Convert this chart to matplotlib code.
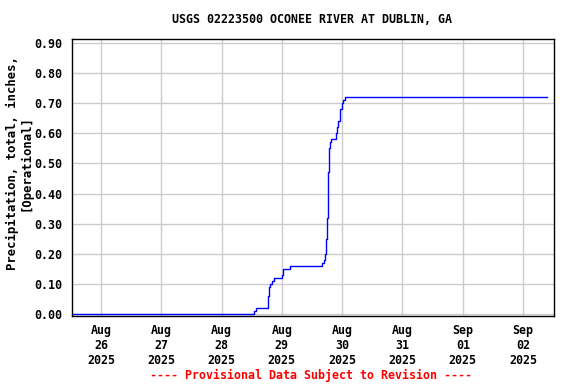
import matplotlib
matplotlib.use("Agg")
import matplotlib.pyplot as plt
import pandas as pd

# precipitation, cumulative (inches), step readings
times = [
    "2025-08-25 12:30", "2025-08-28 13:00", "2025-08-28 13:40", "2025-08-28 14:20",
    "2025-08-28 18:40", "2025-08-28 19:00", "2025-08-28 19:20", "2025-08-28 20:00",
    "2025-08-28 21:00", "2025-08-29 00:00", "2025-08-29 00:20", "2025-08-29 03:20",
    "2025-08-29 16:00", "2025-08-29 16:50", "2025-08-29 17:15", "2025-08-29 17:35",
    "2025-08-29 18:00", "2025-08-29 18:20", "2025-08-29 18:40", "2025-08-29 19:15",
    "2025-08-29 19:40", "2025-08-29 21:35", "2025-08-29 22:00", "2025-08-29 22:30",
    "2025-08-29 23:00", "2025-08-29 23:20", "2025-08-30 00:00", "2025-08-30 00:30",
    "2025-08-30 01:00", "2025-09-02 09:20",
]
values = [
    0.00, 0.01, 0.02, 0.02,
    0.06, 0.09, 0.10, 0.11,
    0.12, 0.13, 0.15, 0.16,
    0.17, 0.18, 0.20, 0.25,
    0.32, 0.47, 0.55, 0.57,
    0.58, 0.60, 0.62, 0.64,
    0.66, 0.68, 0.70, 0.71,
    0.72, 0.72,
]
day_ticks = ["2025-08-26", "2025-08-27", "2025-08-28", "2025-08-29",
             "2025-08-30", "2025-08-31", "2025-09-01", "2025-09-02"]
y_ticks = [0.0, 0.1, 0.2, 0.3, 0.4, 0.5, 0.6, 0.7, 0.8, 0.9]

t = pd.to_datetime(times)
ticks = pd.to_datetime(day_ticks)

font = {"family": "DejaVu Sans Mono", "weight": "bold", "size": 8.4}

fig = plt.figure(figsize=(5.76, 3.84), dpi=100)
ax = fig.add_axes([0.125, 0.177, 0.837, 0.721])

ax.plot(t, values, drawstyle="steps-post", color="#0000ff", linewidth=1)

ax.set_xlim(pd.Timestamp("2025-08-25 12:30"), pd.Timestamp("2025-09-02 12:20"))
ax.set_ylim(-0.007, 0.913)
ax.set_xticks(ticks)
ax.set_xticklabels([d.strftime("%b\n%d\n%Y") for d in ticks], fontdict=font, linespacing=1.2)
ax.set_yticks(y_ticks)
ax.set_yticklabels([f"{v:.2f}" for v in y_ticks], fontdict=font)
ax.tick_params(axis="x", length=0, pad=6)
ax.tick_params(axis="y", length=0, pad=7)
ax.grid(color="#cccccc", linewidth=1)
ax.set_axisbelow(True)
for s in ax.spines.values():
    s.set_color("black")
    s.set_linewidth(1)

fig.text(0.033, 0.576, "Precipitation, total, inches,\n[Operational]",
         rotation=90, ha="center", va="center", linespacing=1.05,
         family="DejaVu Sans Mono", weight="bold", size=8.8)
fig.text(0.542, 0.948, "USGS 02223500 OCONEE RIVER AT DUBLIN, GA",
         ha="center", va="center", **font)
fig.text(0.54, 0.023, "---- Provisional Data Subject to Revision ----",
         ha="center", va="center", color="red", **font)

fig.savefig("out.png", dpi=100)
